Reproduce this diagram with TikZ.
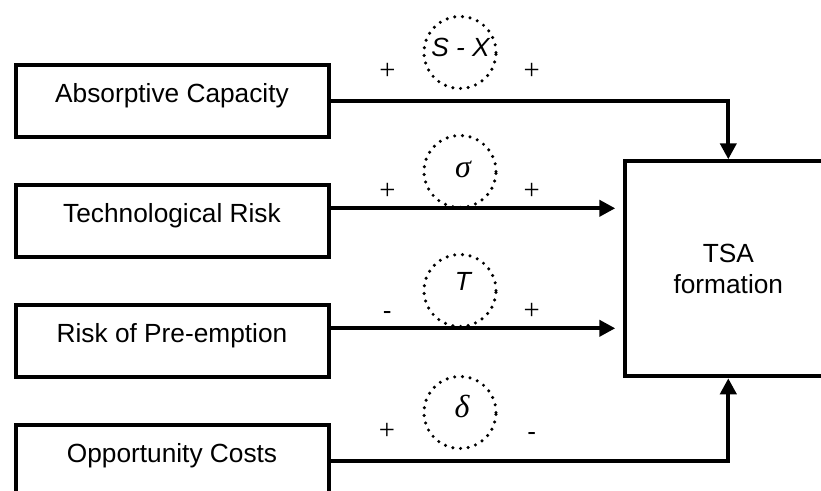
\documentclass[tikz,border=0pt]{standalone}
\usepackage{fontspec}
\setmainfont{Liberation Sans}
\newfontfamily\greekfont{Liberation Serif}
\usetikzlibrary{arrows.meta}
\tikzset{
	every node/.style={font=\fontsize{19.7}{23}\selectfont},
	factor/.style={draw,line width=3pt,minimum width=234.75pt,minimum height=54pt,inner sep=0pt,text height=11pt,text depth=9.5pt},
	outcome/.style={draw,line width=3pt,minimum width=154.5pt,minimum height=161.25pt,align=center},
	ring/.style={circle,draw,line width=2.6pt,dash pattern=on 0pt off 5.8pt,line cap=round,minimum size=54pt,inner sep=0pt},
	ringtext/.style={inner sep=0pt,font=\fontsize{19.7}{23}\selectfont\itshape},
	greektext/.style={inner sep=0pt,font=\greekfont\fontsize{24}{28}\selectfont\itshape},
	plussign/.style={inner sep=0pt,font=\greekfont\fontsize{21.5}{25}\selectfont},
	minussign/.style={inner sep=0pt},
	flow/.style={line width=3pt,-{Triangle[length=12pt,width=12pt]}},
}

\begin{document}
\begin{tikzpicture}[x=0.75pt,y=-0.75pt]
	\useasboundingbox (0,0) rectangle (821,491);
	
	% factor boxes..................
	\node [factor] (absorb) at (172,101.3) {Absorptive Capacity};
	\node [factor] (tech) at (172,221.3) {Technological Risk};
	\node [factor] (preempt) at (172,341.3) {Risk of Pre-emption};
	\node [factor] (opport) at (172,461) {Opportunity Costs};
	
	% TSA box.......................
	\node [outcome] (tsa) at (728.3,268.8) {TSA\\formation};
	
	% moderators....................
	\node [ring] (sxring) at (460,52.5) {};
	\node [ring] (sigring) at (460,171.5) {};
	\node [ring] (tring) at (460,290.5) {};
	\node [ring] (dring) at (460,412.5) {};
	\node [ringtext] (sxlab) at (460.5,47.8) {S - X};
	\node [greektext] (siglab) at (463,169) {σ};
	\node [ringtext] (tlab) at (463,281.3) {T};
	\node [greektext] (dlab) at (462,406.5) {δ};
	
	% signs.........................
	\node [plussign] (sxin) at (387.5,71) {+};
	\node [plussign] (sxout) at (531.7,71) {+};
	\node [plussign] (sigin) at (387.5,191) {+};
	\node [plussign] (sigout) at (531.7,191) {+};
	\node [minussign] (tin) at (387.3,315.5) {-};
	\node [plussign] (tout) at (531.7,311) {+};
	\node [plussign] (din) at (387,431.7) {+};
	\node [minussign] (dout) at (531.7,436) {-};
	
	% arrows to TSA.................
	\coordinate (techout) at ([yshift=9.75pt]tech.east);
	\coordinate (preemptout) at ([yshift=9.75pt]preempt.east);
	\draw [flow] (absorb.east) -| (tsa.north);
	\draw [flow,shorten >=6pt] (techout) -- (techout -| tsa.west);
	\draw [flow,shorten >=6pt] (preemptout) -- (preemptout -| tsa.west);
	\draw [flow] (opport.east) -| (tsa.south);
\end{tikzpicture}
\end{document}
